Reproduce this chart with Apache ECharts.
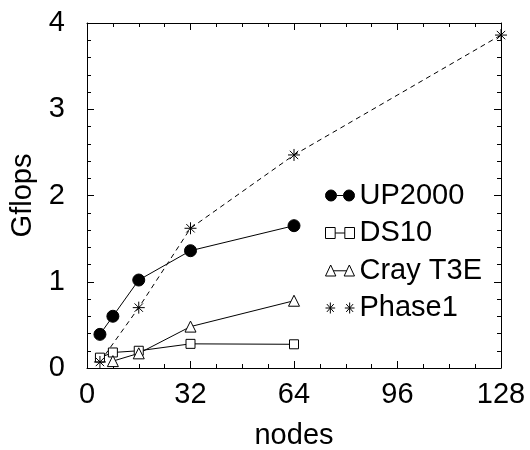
<!DOCTYPE html>
<html>
<head>
<meta charset="utf-8">
<script src="https://cdn.jsdelivr.net/npm/echarts@6/dist/echarts.min.js"></script>
<style>
  html, body { margin: 0; padding: 0; background: #fff; }
  #chart { width: 530px; height: 450px; }
</style>
</head>
<body>
<div id="chart"></div>
<script>
// values
const upNodes = [4, 8, 16, 32, 64];
const up2000 = [0.39, 0.6, 1.02, 1.36, 1.65];
const dsNodes = [4, 8, 16, 32, 64];
const ds10 = [0.12, 0.18, 0.2, 0.28, 0.275];
const crayNodes = [8, 16, 32, 64];
const crayT3E = [0.08, 0.17, 0.48, 0.78];
const phaseNodes = [4, 16, 32, 64, 128];
const phase1 = [0.07, 0.7, 1.62, 2.47, 3.86];
const xTicks = [0, 32, 64, 96, 128];
const yTicks = [0, 1, 2, 3, 4];

const FONT = "'Liberation Sans', Arial, sans-serif";
const pairs = (xs, ys) => xs.map((x, i) => [x, ys[i]]);

const starPath = 'path://M6,0V12M0,6H12M1.8,1.8L10.2,10.2M10.2,1.8L1.8,10.2';

// legend icons: two markers joined by a line
const icons = {
  circle: 'path://M0,5.5A5.5,5.5 0 1,1 11,5.5A5.5,5.5 0 1,1 0,5.5ZM18,5.5A5.5,5.5 0 1,1 29,5.5A5.5,5.5 0 1,1 18,5.5ZM11,5.5L18,5.5',
  square: 'path://M1,1H10V10H1ZM19,1H28V10H19ZM10,5.5H19',
  triangle: 'path://M0.5,10.5L5.5,1L10.5,10.5ZM18.5,10.5L23.5,1L28.5,10.5ZM8,6H21',
  star: 'path://M5.5,1V10M1,5.5H10M2.3,2.3L8.7,8.7M8.7,2.3L2.3,8.7M23.5,1V10M19,5.5H28M20.3,2.3L26.7,8.7M26.7,2.3L20.3,8.7'
};

const chart = echarts.init(document.getElementById('chart'), null, { renderer: 'canvas' });

const tickStyle = { color: '#000', width: 1 };

function xAxisDef(pos, labels) {
  return {
    type: 'value', position: pos, min: xTicks[0], max: xTicks[xTicks.length - 1],
    interval: xTicks[1] - xTicks[0],
    name: labels ? 'nodes' : '', nameLocation: 'middle', nameGap: 53,
    nameTextStyle: { fontFamily: FONT, fontSize: 29, color: '#000' },
    axisLine: { show: true, onZero: false, lineStyle: tickStyle },
    axisTick: { show: true, inside: true, length: 7, lineStyle: tickStyle },
    minorTick: { show: true, splitNumber: 4, length: 4, lineStyle: tickStyle },
    axisLabel: { show: labels, margin: 12, fontFamily: FONT, fontSize: 29, color: '#000' },
    splitLine: { show: false }
  };
}

function yAxisDef(pos, labels) {
  return {
    type: 'value', position: pos, min: yTicks[0], max: yTicks[yTicks.length - 1],
    interval: yTicks[1] - yTicks[0],
    name: labels ? 'Gflops' : '', nameLocation: 'middle', nameGap: 48,
    nameTextStyle: { fontFamily: FONT, fontSize: 29, color: '#000' },
    axisLine: { show: true, onZero: false, lineStyle: tickStyle },
    axisTick: { show: true, inside: true, length: 7, lineStyle: tickStyle },
    minorTick: { show: true, splitNumber: 5, length: 4, lineStyle: tickStyle },
    axisLabel: { show: labels, margin: 22, fontFamily: FONT, fontSize: 29, color: '#000' },
    splitLine: { show: false }
  };
}

const hollow = { color: '#fff', borderColor: '#000', borderWidth: 1 };
const solid = { color: '#000', borderColor: '#000', borderWidth: 1 };

chart.setOption({
  animation: false,
  grid: { left: 87, right: 29, top: 23, bottom: 82, outerBoundsMode: 'none' },
  xAxis: [xAxisDef('bottom', true), xAxisDef('top', false)],
  yAxis: [yAxisDef('left', true), yAxisDef('right', false)],
  legend: {
    orient: 'vertical', left: 318, top: 176, itemGap: 8.5,
    itemWidth: 29, itemHeight: 11, symbolKeepAspect: false,
    textStyle: { fontFamily: FONT, fontSize: 29, color: '#000' },
    selectedMode: false,
    data: [
      { name: 'UP2000', icon: icons.circle, itemStyle: solid },
      { name: 'DS10', icon: icons.square, itemStyle: hollow },
      { name: 'Cray T3E', icon: icons.triangle, itemStyle: hollow },
      { name: 'Phase1', icon: icons.star, itemStyle: { color: 'none', borderColor: '#000', borderWidth: 1 } }
    ]
  },
  series: [
    {
      name: 'UP2000', type: 'line', data: pairs(upNodes, up2000), clip: false,
      symbol: 'circle', symbolSize: 12, itemStyle: solid,
      lineStyle: { color: '#000', width: 1 }
    },
    {
      name: 'DS10', type: 'line', data: pairs(dsNodes, ds10), clip: false,
      symbol: 'rect', symbolSize: 9, itemStyle: hollow,
      lineStyle: { color: '#000', width: 1 }
    },
    {
      name: 'Cray T3E', type: 'line', data: pairs(crayNodes, crayT3E), clip: false,
      symbol: 'triangle', symbolSize: 11, itemStyle: hollow,
      lineStyle: { color: '#000', width: 1 }
    },
    {
      name: 'Phase1', type: 'line', data: pairs(phaseNodes, phase1), clip: false,
      symbol: starPath, symbolSize: 12,
      itemStyle: { color: 'none', borderColor: '#000', borderWidth: 1 },
      lineStyle: { color: '#000', width: 1, type: [5, 4] }
    }
  ]
});
</script>
</body>
</html>
